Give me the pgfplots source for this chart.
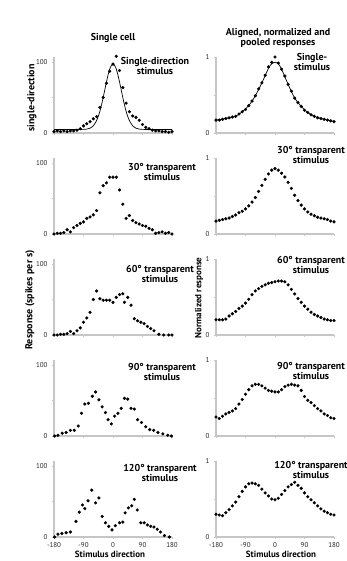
\documentclass[border=0pt]{standalone}
\usepackage{fontspec}
\setmainfont{PT Sans}
\usepackage{pgfplots}
\pgfplotsset{compat=1.18}
\pgfplotsset{
 panel/.style={scale only axis, width=118pt, height=76pt, xmin=-180, xmax=180, clip=false,
  axis lines=left, axis line style={-, draw=gray!45, line width=1.1pt},
  xtick={-180,-90,0,90,180}, xticklabels={},
  tick style={draw=gray!45, line width=0.8pt}, tick align=outside, major tick length=2pt,
  tick label style={font=\fontsize{7}{7}\selectfont, text=black!85},
  yticklabel style={xshift=-1pt},
  /pgf/number format/assume math mode=true,
  anchor=south west},
 leftp/.style={panel, ymin=0, ymax=107, ytick={0,50,100}, yticklabels={0,,100}},
 rightp/.style={panel, ymin=0, ymax=1, ytick={0,0.5,1}, yticklabels={0,,1}},
 bottomx/.style={xticklabels={-180,-90,0,90,180}},
 dots/.style={only marks, mark=*, mark size=1.4pt, black},
 fit/.style={no marks, black, line width=0.7pt, smooth},
}
\tikzset{ann/.style={font=\bfseries\fontsize{10}{10}\selectfont, align=center, inner sep=0pt},
 lab/.style={font=\bfseries\fontsize{9}{9}\selectfont, align=center, inner sep=0pt}}
\begin{document}
\begin{tikzpicture}
\useasboundingbox (0,0) rectangle (347pt,-561pt);
% ---------------- Row 1 ----------------
\begin{axis}[leftp, at={(54pt,-133pt)}]
\addplot[fit] coordinates {(-180,5)(-150,5)(-120,5)(-90,5.1)(-80,5.5)(-70,6.8)(-60,10.2)(-50,17.5)(-45,23.2)(-40,30.6)(-35,39.5)(-30,49.8)(-25,60.8)(-20,71.8)(-15,81.8)(-10,89.9)(-5,95.2)(0,97)(5,95.2)(10,89.9)(15,81.8)(20,71.8)(25,60.8)(30,49.8)(35,39.5)(40,30.6)(45,23.2)(50,17.5)(60,10.2)(70,6.8)(80,5.5)(90,5.1)(120,5)(150,5)(180,5)};
\addplot[dots] coordinates {(-180,2)(-170,3)(-160,2)(-150,3)(-140,2)(-130,3)(-120,3)(-110,4)(-100,6)(-90,10)(-80,13)(-70,16)(-60,20)(-50,23)(-40,36)(-30,50)(-20,70)(-10,87)(0,97)(10,108)(20,88)(30,64)(40,42)(50,30)(60,24)(70,22)(80,18)(90,12)(100,8)(110,6)(120,4)(130,3)(140,3)(150,2)(160,2)(170,1)(180,2)};
\end{axis}
\begin{axis}[rightp, at={(216pt,-133pt)}]
\addplot[fit] coordinates {(-180,0.17)(-150,0.19)(-120,0.22)(-100,0.28)(-80,0.36)(-60,0.49)(-40,0.66)(-20,0.85)(-10,0.91)(0,0.93)(10,0.91)(20,0.84)(40,0.64)(60,0.46)(80,0.35)(100,0.27)(120,0.22)(150,0.18)(180,0.15)};
\addplot[dots] coordinates {(-180,0.17)(-170,0.17)(-160,0.18)(-150,0.19)(-140,0.2)(-130,0.21)(-120,0.22)(-110,0.25)(-100,0.28)(-90,0.31)(-80,0.36)(-70,0.42)(-60,0.49)(-50,0.58)(-40,0.66)(-30,0.76)(-20,0.87)(-10,0.93)(0,1.0)(10,0.92)(20,0.84)(30,0.75)(40,0.64)(50,0.55)(60,0.46)(70,0.4)(80,0.35)(90,0.3)(100,0.27)(110,0.24)(120,0.22)(130,0.2)(140,0.19)(150,0.18)(160,0.17)(170,0.16)(180,0.15)};
\end{axis}
% ---------------- Row 2 ----------------
\begin{axis}[leftp, at={(54pt,-234pt)}]
\addplot[dots] coordinates {(-180,0)(-170,1)(-160,1)(-150,2)(-140,6)(-130,3)(-120,9)(-110,12)(-100,15)(-90,17)(-80,22)(-70,24)(-60,27)(-50,33)(-40,58)(-30,68)(-20,72)(-10,80)(0,80)(10,80)(20,62)(30,42)(40,22)(50,26)(60,19)(70,16)(80,14)(90,12)(100,11)(110,8)(120,6)(130,1)(140,2)(150,3)(160,1)(170,2)(180,0)};
\end{axis}
\begin{axis}[rightp, at={(216pt,-234pt)}]
\addplot[dots] coordinates {(-180,0.17)(-170,0.18)(-160,0.19)(-150,0.2)(-140,0.21)(-130,0.23)(-120,0.25)(-110,0.28)(-100,0.3)(-90,0.33)(-80,0.37)(-70,0.42)(-60,0.48)(-50,0.56)(-40,0.64)(-30,0.72)(-20,0.79)(-10,0.84)(0,0.86)(10,0.84)(20,0.8)(30,0.75)(40,0.68)(50,0.6)(60,0.51)(70,0.44)(80,0.38)(90,0.33)(100,0.29)(110,0.26)(120,0.24)(130,0.22)(140,0.21)(150,0.2)(160,0.19)(170,0.17)(180,0.16)};
\end{axis}
% ---------------- Row 3 ----------------
\begin{axis}[leftp, at={(54pt,-335pt)}]
\addplot[dots] coordinates {(-180,0)(-170,0)(-160,1)(-150,1)(-140,2)(-130,5)(-120,2)(-110,6)(-100,10)(-90,18)(-80,24)(-70,32)(-60,50)(-50,62)(-40,51)(-30,49)(-20,49)(-10,49)(0,46)(10,53)(20,57)(30,58)(35,46)(45,53)(55,42)(65,23)(75,20)(85,18)(95,16)(105,12)(115,9)(125,6)(140,1)(155,0)(170,0)(180,0)};
\end{axis}
\begin{axis}[rightp, at={(216pt,-335pt)}]
\addplot[dots] coordinates {(-180,0.2)(-170,0.2)(-160,0.2)(-150,0.21)(-140,0.25)(-130,0.28)(-120,0.31)(-110,0.35)(-100,0.38)(-90,0.42)(-80,0.47)(-70,0.53)(-60,0.58)(-50,0.61)(-40,0.64)(-30,0.66)(-20,0.68)(-10,0.69)(0,0.7)(10,0.71)(20,0.71)(30,0.7)(40,0.66)(50,0.6)(60,0.54)(70,0.48)(80,0.43)(90,0.38)(100,0.34)(110,0.3)(120,0.27)(130,0.25)(140,0.23)(150,0.21)(160,0.2)(170,0.19)(180,0.19)};
\end{axis}
% ---------------- Row 4 ----------------
\begin{axis}[leftp, at={(54pt,-436pt)}]
\addplot[dots] coordinates {(-178,0)(-168,1)(-155,4)(-143,5)(-130,8)(-118,8)(-106,14)(-96,32)(-86,45)(-75,46)(-63,56)(-53,62)(-43,51)(-33,41)(-23,33)(-15,23)(-5,17)(5,28)(15,32)(25,39)(35,53)(45,52)(55,39)(65,38)(75,23)(87,19)(100,13)(112,9)(124,8)(137,5)(152,3)(167,1)(178,0)};
\end{axis}
\begin{axis}[rightp, at={(216pt,-436pt)}]
\addplot[dots] coordinates {(-180,0.25)(-170,0.23)(-160,0.26)(-150,0.29)(-140,0.31)(-130,0.33)(-120,0.36)(-110,0.42)(-100,0.48)(-90,0.55)(-80,0.61)(-70,0.66)(-60,0.68)(-50,0.68)(-40,0.66)(-30,0.63)(-20,0.6)(-10,0.59)(0,0.58)(10,0.58)(20,0.61)(30,0.65)(40,0.67)(50,0.68)(60,0.67)(70,0.66)(80,0.6)(90,0.52)(100,0.47)(110,0.44)(120,0.4)(130,0.36)(140,0.33)(150,0.29)(160,0.27)(170,0.24)(180,0.23)};
\end{axis}
% ---------------- Row 5 ----------------
\begin{axis}[leftp, bottomx, at={(54pt,-537pt)}]
\addplot[dots] coordinates {(-178,0)(-168,4)(-156,5)(-143,6)(-130,7)(-113,22)(-103,35)(-93,45)(-86,40)(-76,51)(-65,66)(-53,48)(-43,55)(-33,29)(-23,20)(-13,15)(-3,10)(7,16)(20,20)(30,21)(37,34)(47,41)(57,44)(65,53)(74,38)(85,20)(95,20)(105,17)(115,15)(125,14)(135,11)(145,7)(157,2)(172,0)};
\end{axis}
\begin{axis}[rightp, bottomx, at={(216pt,-537pt)}]
\addplot[dots] coordinates {(-180,0.3)(-170,0.29)(-160,0.28)(-150,0.32)(-140,0.36)(-130,0.41)(-120,0.46)(-110,0.53)(-100,0.6)(-90,0.66)(-80,0.7)(-70,0.71)(-60,0.7)(-50,0.68)(-40,0.63)(-30,0.58)(-20,0.54)(-10,0.5)(0,0.49)(10,0.51)(20,0.56)(30,0.61)(40,0.66)(50,0.69)(60,0.72)(70,0.68)(80,0.64)(90,0.58)(100,0.53)(110,0.49)(120,0.45)(130,0.41)(140,0.37)(150,0.34)(160,0.32)(170,0.3)(180,0.29)};
\end{axis}
% ---------------- Text ----------------
\node[ann] at (113pt,-38pt) {Single cell};
\node[ann] at (278pt,-38pt) {Aligned, normalized and\\pooled responses};
\node[ann, rotate=90] at (32pt,-98pt) {single-direction};
\node[ann, rotate=90] at (30pt,-300pt) {Response (spikes per s)};
\node[lab, rotate=90] at (199pt,-298pt) {Normalized response};
\node[ann] at (155pt,-66pt) {Single-direction\\stimulus};
\node[ann] at (312pt,-62pt) {Single-\\stimulus};
\node[ann] at (162pt,-172pt) {30° transparent\\stimulus};
\node[ann] at (311pt,-155pt) {30° transparent\\stimulus};
\node[ann] at (160pt,-274pt) {60° transparent\\stimulus};
\node[ann] at (311pt,-265pt) {60° transparent\\stimulus};
\node[ann] at (162pt,-372pt) {90° transparent\\stimulus};
\node[ann] at (311pt,-371pt) {90° transparent\\stimulus};
\node[ann] at (160pt,-473pt) {120° transparent\\stimulus};
\node[ann] at (311pt,-470pt) {120° transparent\\stimulus};
\node[lab] at (110pt,-554pt) {Stimulus direction};
\node[lab] at (281pt,-554pt) {Stimulus direction};
\end{tikzpicture}
\end{document}
